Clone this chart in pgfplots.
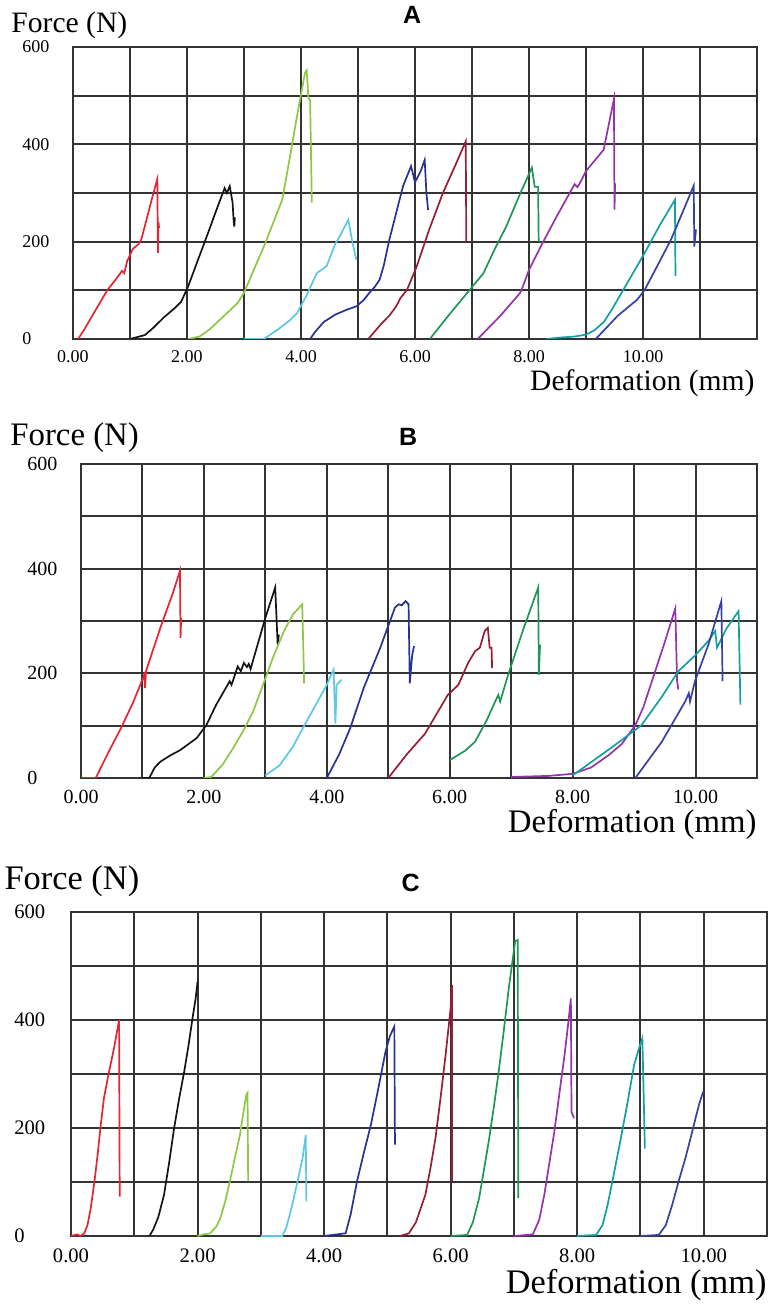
\documentclass[border=0pt]{standalone}
\usepackage{fontspec}
\setmainfont{Liberation Serif}
\newfontfamily\titlefont{Liberation Sans}
\usepackage{pgfplots}
\pgfplotsset{compat=1.18}
\definecolor{cRed}{RGB}{232,35,50}
\definecolor{cBlack}{RGB}{20,20,20}
\definecolor{cLGreen}{RGB}{140,200,70}
\definecolor{cCyan}{RGB}{90,200,230}
\definecolor{cDBlue}{RGB}{40,50,150}
\definecolor{cBrown}{RGB}{150,30,55}
\definecolor{cGreen}{RGB}{30,150,85}
\definecolor{cPurple}{RGB}{150,50,170}
\definecolor{cTeal}{RGB}{20,160,160}
\definecolor{cBlue}{RGB}{55,65,165}
\pgfplotsset{
  panel/.style={
    scale only axis, xmin=0, ymin=0, ymax=600,
    xtick={0,2,4,6,8,10}, minor xtick={1,3,5,7,9,11},
    ytick={0,200,400,600}, minor ytick={100,300,500},
    xticklabels={0.00,2.00,4.00,6.00,8.00,10.00},
    grid=both,
    major grid style={line width=1pt, black!80},
    minor grid style={line width=1pt, black!80},
    axis line style={line width=1pt, black!80},
    major tick length=0pt, minor tick length=0pt,
    /pgf/number format/assume math mode=true,
    yticklabel style={anchor=west, inner sep=0pt},
    xticklabel style={anchor=center, inner sep=0pt},
    every axis plot/.append style={line width=0.85pt, mark=none},
    every axis title/.style={anchor=base, inner sep=0pt, font=\titlefont\bfseries\fontsize{12.5}{13}\selectfont},
    every axis x label/.style={anchor=base east, inner sep=0pt},
    every axis y label/.style={anchor=base west, inner sep=0pt},
  }
}
\begin{document}
\begin{tikzpicture}
\path[use as bounding box] (0,0) rectangle (385.5pt,653pt);

% ---------------- Panel A ----------------
\begin{axis}[panel, at={(36.5pt,483.5pt)}, anchor=south west,
  width=342pt, height=146pt, xmax=12, minor xtick={1,3,5,7,9,11},
  tick label style={font=\fontsize{9}{10}\selectfont},
  yticklabel style={xshift=-25.5pt},
  xticklabel style={yshift=-9pt},
  title={A}, title style={at={(axis description cs:0.496,1.082)}},
  xlabel={Deformation (mm)}, xlabel style={at={(axis description cs:0.997,-0.175)}, font=\fontsize{14.8}{16}\selectfont},
  ylabel={Force (N)}, ylabel style={at={(axis description cs:-0.0906,1.051)}, font=\fontsize{14.8}{16}\selectfont},
]
\addplot[cRed] coordinates {(0.09,0)(0.2,20)(0.4,60)(0.6,100)(0.8,130)(0.86,140)(0.9,135)(0.95,160)(1.05,185)(1.15,195)(1.2,205)(1.3,250)(1.4,295)(1.48,329)(1.49,177)(1.50,240)(1.51,228)};
\addplot[cBlack] coordinates {(1.0,0)(1.26,8)(1.4,22)(1.6,45)(1.8,65)(1.9,77)(2.02,108)(2.2,165)(2.37,218)(2.5,260)(2.66,310)(2.70,300)(2.75,314)(2.80,280)(2.82,240)(2.83,231)(2.84,250)};
\addplot[cLGreen] coordinates {(2.02,0)(2.22,5)(2.4,20)(2.6,42)(2.89,74)(3.0,95)(3.2,150)(3.35,190)(3.5,235)(3.67,286)(3.8,370)(3.93,458)(4.07,547)(4.1,552)(4.13,495)(4.16,490)(4.19,280)};
\addplot[cCyan] coordinates {(3.0,0)(3.35,0)(3.6,20)(3.8,38)(3.93,53)(4.1,90)(4.28,136)(4.4,145)(4.45,150)(4.6,195)(4.68,211)(4.83,245)(4.9,200)(4.97,163)};
\addplot[cDBlue] coordinates {(4.16,0)(4.25,15)(4.4,35)(4.6,50)(4.8,60)(4.97,67)(5.1,80)(5.2,95)(5.3,108)(5.38,122)(5.45,150)(5.55,204)(5.79,314)(5.93,355)(6.0,322)(6.1,345)(6.17,368)(6.2,300)(6.23,265)};
\addplot[cBrown] coordinates {(5.18,0)(5.4,30)(5.55,48)(5.67,67)(5.75,85)(5.86,101)(6.03,149)(6.25,225)(6.49,300)(6.7,355)(6.89,406)(6.9,200)};
\addplot[cGreen] coordinates {(6.26,0)(6.6,50)(6.96,101)(7.2,135)(7.4,185)(7.6,231)(7.85,300)(8.05,352)(8.1,313)(8.16,313)(8.17,200)};
\addplot[cPurple] coordinates {(7.1,0)(7.5,48)(7.84,94)(7.87,101)(8.0,142)(8.25,200)(8.5,255)(8.8,318)(8.85,312)(8.9,322)(9.0,345)(9.31,389)(9.49,493)(9.5,266)(9.51,320)};
\addplot[cTeal] coordinates {(8.3,0)(8.55,3)(8.8,5)(9.0,9)(9.15,18)(9.32,36)(9.45,60)(9.62,94)(10.03,177)(10.3,235)(10.56,286)(10.57,129)};
\addplot[cBlue] coordinates {(9.17,0)(9.35,22)(9.55,47)(9.9,81)(10.03,101)(10.25,150)(10.49,204)(10.7,262)(10.89,315)(10.9,190)(10.93,225)};
\end{axis}

% ---------------- Panel B ----------------
\begin{axis}[panel, at={(40.5pt,264pt)}, anchor=south west,
  width=338pt, height=157pt, xmax=11,
  tick label style={font=\fontsize{10}{11}\selectfont},
  yticklabel style={xshift=-27pt},
  xticklabel style={yshift=-9.5pt},
  title={B}, title style={at={(axis description cs:0.484,1.06)}},
  xlabel={Deformation (mm)}, xlabel style={at={(axis description cs:1.0,-0.175)}, font=\fontsize{16.4}{18}\selectfont},
  ylabel={Force (N)}, ylabel style={at={(axis description cs:-0.105,1.0605)}, font=\fontsize{16.4}{18}\selectfont},
]
\addplot[cRed] coordinates {(0,0)(0.24,0)(0.45,50)(0.65,95)(0.85,145)(1.03,197)(1.04,172)(1.06,205)(1.3,290)(1.5,355)(1.61,396)(1.62,268)(1.63,306)};
\addplot[cBlack] coordinates {(1.0,0)(1.11,0)(1.2,20)(1.29,31)(1.45,43)(1.61,53)(1.88,76)(2.04,101)(2.2,140)(2.42,185)(2.45,178)(2.55,213)(2.6,204)(2.65,220)(2.7,212)(2.73,218)(2.76,208)(2.81,229)(3.0,306)(3.16,364)(3.2,255)(3.22,274)};
\addplot[cLGreen] coordinates {(2.0,0)(2.12,2)(2.3,25)(2.47,56)(2.65,92)(2.8,127)(3.0,190)(3.12,229)(3.3,280)(3.45,313)(3.6,332)(3.62,236)(3.63,181)};
\addplot[cCyan] coordinates {(3.0,5)(3.23,24)(3.45,60)(3.67,108)(4.0,178)(4.11,207)(4.14,104)(4.16,178)(4.24,188)};
\addplot[cDBlue] coordinates {(4.0,0)(4.2,45)(4.38,95)(4.6,172)(4.87,249)(5.11,326)(5.17,332)(5.22,330)(5.28,338)(5.33,332)(5.35,181)(5.39,236)(5.42,252)};
\addplot[cBrown] coordinates {(5.0,0)(5.3,45)(5.6,85)(5.8,125)(5.97,159)(6.14,178)(6.3,220)(6.41,242)(6.49,249)(6.57,281)(6.62,287)(6.65,249)(6.68,249)(6.69,210)};
\addplot[cGreen] coordinates {(6.0,34)(6.08,40)(6.25,52)(6.41,69)(6.6,110)(6.79,159)(6.82,146)(6.95,197)(7.2,285)(7.44,364)(7.45,197)(7.47,255)};
\addplot[cPurple] coordinates {(7.0,2)(7.61,4)(8.0,8)(8.3,20)(8.59,44)(8.8,65)(9.02,101)(9.15,135)(9.29,185)(9.5,260)(9.67,324)(9.7,185)(9.72,169)};
\addplot[cTeal] coordinates {(8.0,5)(8.31,31)(8.69,63)(9.12,101)(9.45,155)(9.72,204)(10.0,235)(10.21,262)(10.32,281)(10.35,249)(10.5,285)(10.7,319)(10.73,140)};
\addplot[cBlue] coordinates {(9.02,0)(9.45,69)(9.83,146)(9.89,162)(9.91,146)(9.99,185)(10.21,255)(10.42,338)(10.44,185)};
\end{axis}

% ---------------- Panel C ----------------
\begin{axis}[panel, at={(35.5pt,35pt)}, anchor=south west,
  width=348pt, height=162pt, xmax=11,
  tick label style={font=\fontsize{10.3}{11}\selectfont},
  yticklabel style={xshift=-28.5pt},
  xticklabel style={yshift=-10pt},
  title={C}, title style={at={(axis description cs:0.488,1.062)}},
  xlabel={Deformation (mm)}, xlabel style={at={(axis description cs:1.0,-0.176)}, font=\fontsize{17.2}{19}\selectfont},
  ylabel={Force (N)}, ylabel style={at={(axis description cs:-0.096,1.068)}, font=\fontsize{17.2}{19}\selectfont},
]
\addplot[cRed] coordinates {(0,0)(0.1,3)(0.15,0)(0.21,5)(0.26,20)(0.31,50)(0.37,100)(0.42,150)(0.47,205)(0.52,255)(0.58,292)(0.68,348)(0.76,400)(0.77,73)};
\addplot[cBlack] coordinates {(1.24,0)(1.3,12)(1.38,35)(1.47,76)(1.55,135)(1.63,200)(1.71,255)(1.79,305)(1.86,355)(1.92,403)(1.97,440)(2.0,471)};
\addplot[cLGreen] coordinates {(2.0,0)(2.1,3)(2.2,5)(2.3,18)(2.36,33)(2.44,65)(2.51,101)(2.59,145)(2.67,187)(2.72,225)(2.77,261)(2.79,265)(2.8,101)};
\addplot[cCyan] coordinates {(3.0,0)(3.34,0)(3.4,15)(3.47,45)(3.53,75)(3.58,101)(3.66,144)(3.71,187)(3.72,64)};
\addplot[cDBlue] coordinates {(4.0,0)(4.34,5)(4.42,40)(4.52,101)(4.63,155)(4.74,206)(4.86,275)(4.97,341)(5.04,370)(5.11,388)(5.12,169)};
\addplot[cBrown] coordinates {(5.2,0)(5.34,5)(5.45,25)(5.6,76)(5.68,125)(5.76,181)(5.84,255)(5.92,335)(6.0,422)(6.02,465)(6.02,101)};
\addplot[cGreen] coordinates {(6.0,0)(6.26,2)(6.35,25)(6.45,70)(6.53,125)(6.61,181)(6.69,245)(6.76,305)(6.84,380)(6.92,460)(7.02,546)(7.06,548)(7.07,70)};
\addplot[cPurple] coordinates {(7.0,0)(7.3,3)(7.4,30)(7.48,76)(7.56,135)(7.64,194)(7.72,265)(7.8,335)(7.86,395)(7.9,440)(7.91,230)(7.95,218)};
\addplot[cTeal] coordinates {(8.0,0)(8.3,2)(8.4,20)(8.48,57)(8.58,115)(8.69,181)(8.8,250)(8.9,317)(8.97,345)(9.03,366)(9.07,162)};
\addplot[cBlue] coordinates {(9.0,0)(9.29,2)(9.4,20)(9.5,57)(9.6,100)(9.71,144)(9.8,185)(9.87,218)(9.93,245)(9.99,267)};
\end{axis}
\end{tikzpicture}
\end{document}
